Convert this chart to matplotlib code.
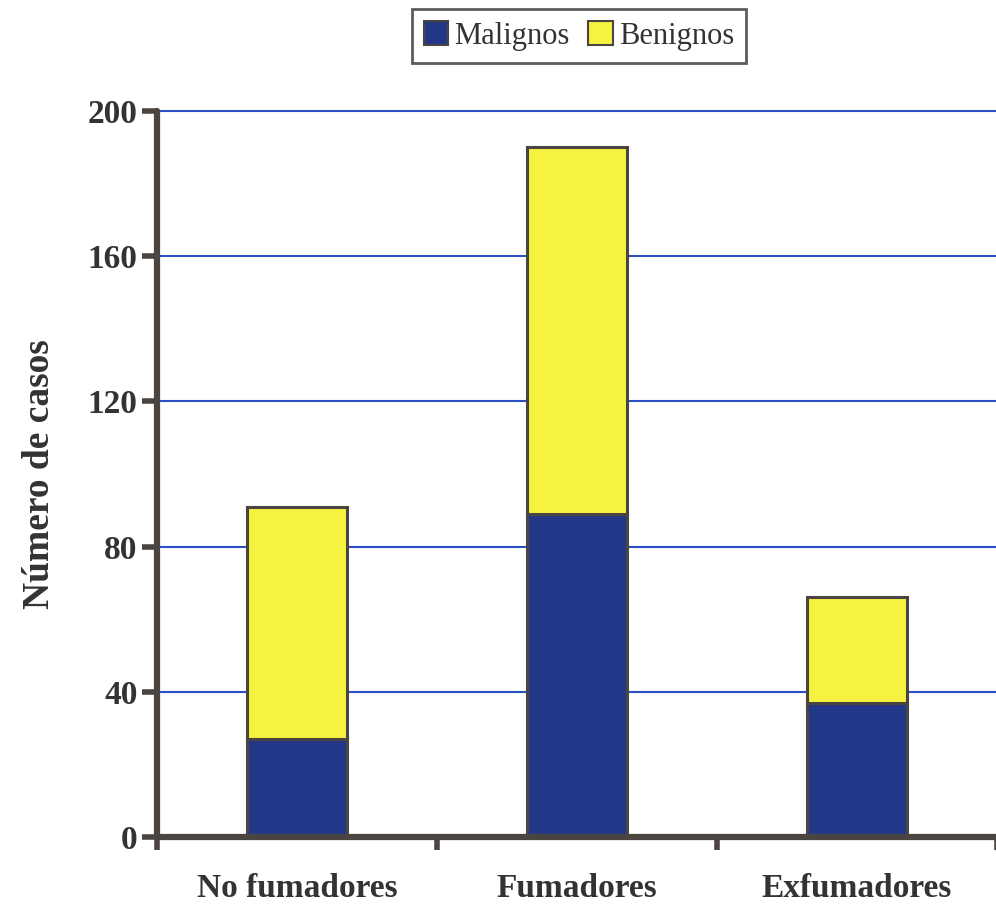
import numpy as np
import matplotlib
matplotlib.use('Agg')
import matplotlib.pyplot as plt
from matplotlib.patches import Patch

# datos
categorias = ['No fumadores', 'Fumadores', 'Exfumadores']
malignos = [27, 89, 37]
benignos = [64, 101, 29]
ticks_y = [0, 40, 80, 120, 160, 200]

azul = '#233789'
amarillo = '#f6f240'
gris = '#4a4541'
linea_grid = '#2d4fc6'

plt.rcParams['font.family'] = ['Liberation Serif', 'DejaVu Serif']

fig = plt.figure(figsize=(9.96, 9.06), dpi=100)
ax = fig.add_axes([157 / 996, 1 - 837 / 906, 840 / 996, (837 - 111) / 906])

x = np.arange(len(categorias))
ancho = 0.36
ax.bar(x, malignos, ancho, color=azul, edgecolor=gris, linewidth=2.2, zorder=3)
ax.bar(x, benignos, ancho, bottom=malignos, color=amarillo, edgecolor=gris,
       linewidth=2.2, zorder=3)

ax.set_xlim(-0.5, 2.5)
ax.set_ylim(0, 200)
ax.set_yticks(ticks_y)
ax.set_yticklabels([str(t) for t in ticks_y], fontsize=24, fontweight='bold', color='#333')
for t in ticks_y[1:]:
    ax.axhline(t, color=linea_grid, linewidth=1.5, zorder=1, clip_on=False)

ax.set_xticks(x)
ax.set_xticklabels(categorias, fontsize=24, fontweight='bold', color='#333')
ax.set_xticks([-0.5, 0.5, 1.5, 2.5], minor=True)
ax.tick_params(axis='x', which='major', length=0, pad=26)
ax.tick_params(axis='x', which='minor', length=9, width=4, color=gris, direction='out')
ax.tick_params(axis='y', length=11, width=4, color=gris, pad=3)

for lado in ['top', 'right']:
    ax.spines[lado].set_visible(False)
for lado in ['left', 'bottom']:
    ax.spines[lado].set_linewidth(4.5)
    ax.spines[lado].set_color(gris)
    ax.spines[lado].set_zorder(4)
    ax.spines[lado].set_capstyle('round')

ax.set_ylabel('Número de casos', fontsize=27, fontweight='bold', color='#333', labelpad=22)

manejadores = [Patch(facecolor=azul, edgecolor=gris, linewidth=1.5, label='Malignos'),
               Patch(facecolor=amarillo, edgecolor=gris, linewidth=1.5, label='Benignos')]
leg = fig.legend(handles=manejadores, loc='center', bbox_to_anchor=(579 / 996, 1 - 36 / 906),
                 ncol=2, fontsize=22, frameon=True, fancybox=False, handlelength=0.8,
                 handleheight=0.8, handletextpad=0.2, columnspacing=0.6, borderpad=0.4)
leg.get_frame().set_edgecolor('#333')
leg.get_frame().set_linewidth(2)
for txt in leg.get_texts():
    txt.set_color('#333')

fig.savefig('out.png', dpi=100)
